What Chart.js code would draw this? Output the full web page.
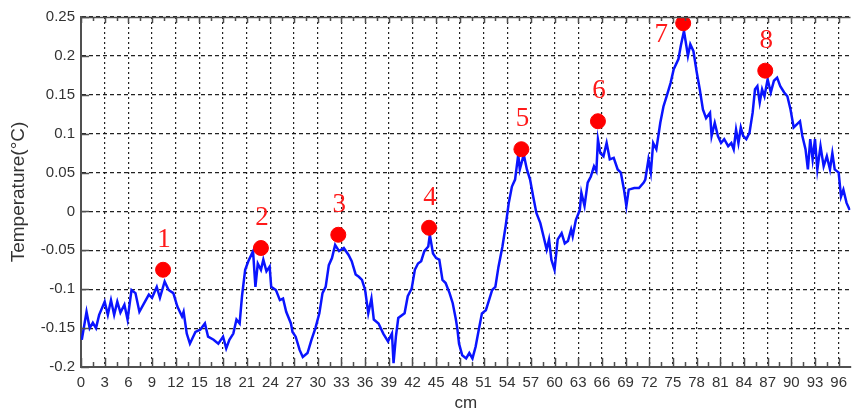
<!DOCTYPE html>
<html>
<head>
<meta charset="utf-8">
<script src="https://cdn.jsdelivr.net/npm/chart.js@4.4.1/dist/chart.umd.min.js"></script>
<style>
html,body{margin:0;padding:0;background:#fff;}
#wrap{width:859px;height:414px;}
</style>
</head>
<body>
<div id="wrap"><canvas id="c" width="859" height="414"></canvas></div>
<script>
// ---- data ----
const xs = [0.1,0.7,1.1,1.5,1.9,2.3,3.0,3.4,3.8,4.2,4.6,5.0,5.5,5.9,6.4,6.9,7.4,8.0,8.6,9.0,9.6,10.0,10.6,11.1,11.7,12.2,12.8,13.0,13.4,13.8,14.5,15.1,15.7,16.1,16.8,17.4,18.0,18.4,18.8,19.3,19.7,
  20.1,20.4,20.8,21.2,21.8,22.1,22.4,22.8,23.1,23.5,23.9,24.1,24.7,25.2,25.6,26.0,26.6,26.8,27.2,27.7,28.1,28.7,29.2,29.7,30.2,30.6,31.0,31.4,31.8,32.2,32.7,33.3,33.9,34.3,34.8,35.2,35.6,36.0,36.4,36.8,37.1,37.7,38.3,38.9,39.4,39.6,39.9,40.2,
  41.0,41.4,41.9,42.3,42.7,43.1,43.5,44.0,44.2,44.6,45.0,45.4,45.8,46.2,46.7,47.1,47.5,47.7,47.9,48.3,48.8,49.2,49.6,50.0,50.4,50.8,51.3,51.7,52.1,52.5,52.9,53.4,53.8,54.2,54.6,55.0,55.4,55.6,56.1,56.5,56.9,57.3,57.7,58.2,58.6,59.0,59.3,59.6,60.0,
  60.4,60.9,61.3,61.7,62.1,62.3,62.7,63.2,63.4,63.8,64.2,64.6,65.0,65.3,65.5,65.8,66.2,66.6,67.0,67.5,68.0,68.4,68.8,69.1,69.4,70.1,70.7,71.3,
  71.5,71.9,72.2,72.5,72.9,73.4,73.8,74.2,74.7,75.1,75.7,76.0,76.4,76.7,76.9,77.2,77.6,78.0,78.4,78.8,79.2,79.7,79.9,80.3,80.7,81.1,81.5,82.0,82.4,82.7,83.0,83.3,83.6,83.9,84.3,84.7,85.1,85.4,85.7,86.0,86.3,86.6,87.0,87.4,87.8,88.2,88.6,89.1,89.5,89.9,90.3,90.7,91.1,91.4,91.8,92.1,92.4,92.7,93.0,93.3,93.7,94.1,94.5,94.9,95.2,95.5,96.0,96.3,96.6,97.0,97.4];
const ys = [-0.165,-0.129,-0.150,-0.143,-0.150,-0.133,-0.116,-0.133,-0.114,-0.133,-0.116,-0.130,-0.120,-0.139,-0.101,-0.105,-0.129,-0.118,-0.107,-0.111,-0.097,-0.111,-0.090,-0.101,-0.105,-0.122,-0.135,-0.129,-0.157,-0.170,-0.155,-0.152,-0.144,-0.161,-0.165,-0.170,-0.161,-0.176,-0.165,-0.157,-0.139,
  -0.144,-0.109,-0.075,-0.064,-0.051,-0.097,-0.067,-0.075,-0.062,-0.077,-0.071,-0.097,-0.101,-0.114,-0.112,-0.129,-0.144,-0.155,-0.161,-0.178,-0.187,-0.182,-0.165,-0.150,-0.131,-0.105,-0.097,-0.069,-0.060,-0.043,-0.051,-0.047,-0.056,-0.064,-0.081,-0.084,-0.088,-0.101,-0.131,-0.112,-0.139,-0.144,-0.157,-0.167,-0.157,-0.195,-0.161,-0.137,
  -0.131,-0.109,-0.099,-0.075,-0.067,-0.064,-0.051,-0.045,-0.030,-0.054,-0.060,-0.062,-0.088,-0.092,-0.105,-0.118,-0.139,-0.152,-0.170,-0.185,-0.189,-0.182,-0.189,-0.174,-0.152,-0.131,-0.127,-0.114,-0.101,-0.097,-0.071,-0.045,-0.019,0.011,0.032,0.041,0.073,0.054,0.073,0.054,0.041,0.019,-0.002,-0.015,-0.032,-0.049,-0.036,-0.062,-0.075,
  -0.036,-0.028,-0.041,-0.038,-0.023,-0.032,-0.011,0.002,0.024,0.007,0.037,0.045,0.058,0.052,0.0925,0.075,0.071,0.088,0.067,0.069,0.054,0.050,0.028,0.007,0.028,0.030,0.030,0.037,
  0.041,0.067,0.050,0.088,0.080,0.114,0.135,0.148,0.165,0.183,0.196,0.213,0.232,0.213,0.200,0.215,0.206,0.180,0.157,0.131,0.120,0.127,0.097,0.114,0.097,0.088,0.093,0.084,0.088,0.080,0.105,0.088,0.108,0.097,0.093,0.101,0.127,0.157,0.161,0.140,0.157,0.148,0.170,0.153,0.168,0.172,0.161,0.153,0.148,0.131,0.108,0.112,0.116,0.097,0.080,0.054,0.093,0.067,0.093,0.054,0.084,0.058,0.071,0.054,0.075,0.054,0.050,0.019,0.028,0.011,0.002];
const peakX = [10.4,22.8,32.6,44.1,55.8,65.5,76.3,86.7];
const peakY = [-0.075,-0.047,-0.030,-0.021,0.080,0.116,0.242,0.181];
const peakLabels = ['1','2','3','4','5','6','7','8'];
const xTicks = [0,3,6,9,12,15,18,21,24,27,30,33,36,39,42,45,48,51,54,57,60,63,66,69,72,75,78,81,84,87,90,93,96];
const yTicks = [-0.2,-0.15,-0.1,-0.05,0,0.05,0.1,0.15,0.2,0.25];
const xTitle = 'cm';
const yTitle = 'Temperature(°C)';

// ---- chart ----
const lineData = xs.map((x,i)=>({x:x,y:ys[i]}));
const peakData = peakX.map((x,i)=>({x:x,y:peakY[i]}));
const AXIS = '#505050';
const labelOffsets = {6:{dx:-22,dy:12}}; // label "7" sits left of its marker

const framePlugin = {
  id:'frame',
  afterDatasetsDraw(chart){
    const {ctx, chartArea:a, scales:{x,y}} = chart;
    ctx.save();
    ctx.strokeStyle = AXIS;
    ctx.lineWidth = 1.5;
    ctx.beginPath(); ctx.moveTo(a.left, a.top+0.5); ctx.lineTo(a.right, a.top+0.5); ctx.stroke();
    for (let i=0;i<xTicks.length;i++){
      const v = xTicks[i];
      const p = Math.round(x.getPixelForValue(v))+0.5;
      ctx.beginPath();
      ctx.moveTo(p, a.bottom); ctx.lineTo(p, a.bottom-9);
      ctx.moveTo(p, a.top); ctx.lineTo(p, a.top+6);
      ctx.stroke();
      const m = v+1.5;
      if (m < x.max){
        const q = Math.round(x.getPixelForValue(m))+0.5;
        ctx.beginPath();
        ctx.moveTo(q, a.bottom); ctx.lineTo(q, a.bottom-5);
        ctx.moveTo(q, a.top); ctx.lineTo(q, a.top+4);
        ctx.stroke();
      }
    }
    for (const v of yTicks){
      const p = Math.round(y.getPixelForValue(v))+0.5;
      ctx.beginPath(); ctx.moveTo(a.left, p); ctx.lineTo(a.left+8, p); ctx.stroke();
    }
    const meta = chart.getDatasetMeta(1);
    ctx.fillStyle = '#ff1a1a';
    ctx.font = '27px "Liberation Serif", "Times New Roman", serif';
    ctx.textAlign = 'center';
    ctx.textBaseline = 'middle';
    meta.data.forEach((pt,i)=>{
      const o = labelOffsets[i] || {dx:1,dy:-30};
      ctx.fillText(peakLabels[i], pt.x+o.dx, pt.y+o.dy);
    });
    ctx.restore();
  }
};

const tickFont = {family:'"Liberation Sans", Arial, sans-serif', size:15};
new Chart(document.getElementById('c'), {
  type:'scatter',
  data:{datasets:[
    {data:lineData, showLine:true, borderColor:'#0a14ff', borderWidth:2.5, pointRadius:0, tension:0, order:2},
    {data:peakData, showLine:false, backgroundColor:'#ff0000', borderColor:'#ff0000', pointRadius:7.5, pointHoverRadius:7.5, order:1}
  ]},
  options:{
    responsive:false, animation:false, devicePixelRatio:1,
    layout:{padding:{top:17,right:1,left:0,bottom:0}},
    plugins:{legend:{display:false}, tooltip:{enabled:false}},
    scales:{
      x:{type:'linear', min:0, max:97.5,
        afterBuildTicks:(s)=>{s.ticks = xTicks.map(v=>({value:v}));},
        afterFit:(s)=>{s.height = 47;},
        ticks:{autoSkip:false, maxRotation:0, padding:7, color:'#333', font:tickFont, callback:(v)=>String(v)},
        grid:{color:'rgba(10,10,10,0.9)', lineWidth:1.2, drawTicks:false},
        border:{display:true, color:AXIS, width:2, dash:[2,3]},
        title:{display:true, text:xTitle, color:'#333', font:{family:'"Liberation Sans", Arial, sans-serif', size:17}, padding:{top:0,bottom:0}}
      },
      y:{type:'linear', min:-0.2, max:0.25,
        afterBuildTicks:(s)=>{s.ticks = yTicks.map(v=>({value:v}));},
        afterFit:(s)=>{s.width = 81;},
        ticks:{padding:6, color:'#333', font:tickFont, callback:(v)=>String(Number(v.toFixed(2)))},
        grid:{color:'rgba(10,10,10,0.9)', lineWidth:1.2, drawTicks:false},
        border:{display:true, color:AXIS, width:2, dash:[4,3]},
        title:{display:true, text:yTitle, color:'#333', font:{family:'"Liberation Sans", Arial, sans-serif', size:19}, padding:{top:7,bottom:0}}
      }
    }
  },
  plugins:[framePlugin]
});
</script>
</body>
</html>
